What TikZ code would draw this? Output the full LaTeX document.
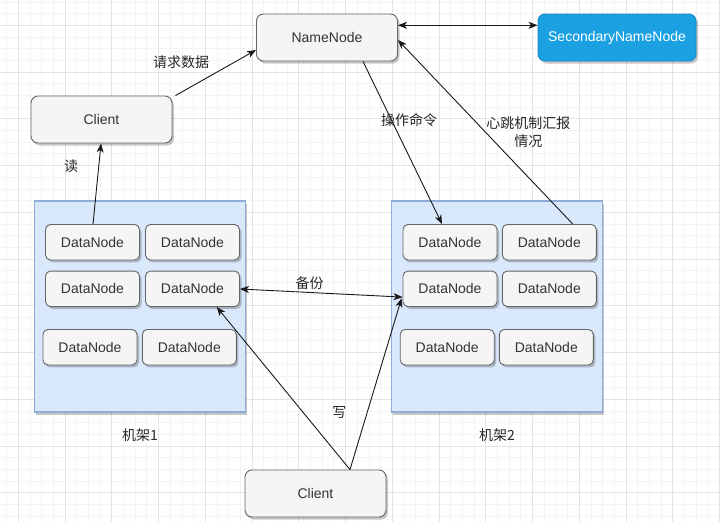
\documentclass[tikz,border=0pt]{standalone}
\usepackage{fontspec}
\setmainfont{Liberation Sans}
\newfontfamily\cjk{Noto Sans CJK SC}
\usetikzlibrary{arrows.meta,shadows,calc}
\definecolor{gfill}{HTML}{F5F5F5}
\definecolor{gstroke}{HTML}{666666}
\definecolor{gtext}{HTML}{333333}
\definecolor{rackfill}{HTML}{DAE8FC}
\definecolor{rackstroke}{HTML}{8FACD6}
\definecolor{snnfill}{HTML}{1BA1E2}
\definecolor{snnstroke}{HTML}{1A87C9}
\definecolor{gridminor}{HTML}{F4F4F4}
\definecolor{gridmajor}{HTML}{E4E4E4}
\begin{document}
\begin{tikzpicture}[x=1pt,y=-1pt,
  shad/.style={drop shadow={shadow xshift=2pt,shadow yshift=-2.5pt,opacity=0.22,fill=black}},
  box/.style={shad,draw=gstroke,fill=gfill,rounded corners=7pt,text=gtext,
    font=\fontsize{14}{17}\selectfont,minimum width=141pt,minimum height=47pt,
    line width=0.9pt,inner sep=0pt},
  dn/.style={box,minimum width=94pt,minimum height=35.5pt,rounded corners=5pt},
  snnbox/.style={box,draw=snnstroke,fill=snnfill,text=white,minimum width=158pt},
  rack/.style={shad,draw=rackstroke,fill=rackfill,line width=1.2pt,minimum width=211pt,minimum height=211pt,inner sep=0pt},
  lab/.style={text=black!85,font=\cjk\fontsize{14}{17.5}\selectfont,inner sep=0pt,align=center},
  conn/.style={draw=black!90,line width=0.9pt,-{Stealth[length=9pt,width=7pt,inset=2.5pt]}},
  dconn/.style={conn,{Stealth[length=9pt,width=7pt,inset=2.5pt]}-{Stealth[length=9pt,width=7pt,inset=2.5pt]}}
]
\useasboundingbox (0,0) rectangle (720,522);
\fill[white] (0,0) rectangle (720,522);
\foreach \i in {0,...,61} {\draw[gridminor,line width=0.8pt] ({6.6+11.6875*\i},0) -- ++(0,522);}
\foreach \i in {0,...,45} {\draw[gridminor,line width=0.8pt] (0,{1.925+11.6875*\i}) -- ++(720,0);}
\foreach \i in {0,...,15} {\draw[gridmajor,line width=0.8pt] ({18.3+46.75*\i},0) -- ++(0,522);}
\foreach \i in {0,...,11} {\draw[gridmajor,line width=0.8pt] (0,{25.3+46.75*\i}) -- ++(720,0);}

% racks
\node[rack] (r1) at (139.7,306.5) {};
\node[rack] (r2) at (496.7,306.5) {};

% main nodes
\node[box] (nn) at (327,37.5) {NameNode};
\node[snnbox] (snn) at (617,37.5) {SecondaryNameNode};
\node[box] (c1) at (101.5,119.5) {Client};
\node[box] (c2) at (315.5,493.5) {Client};

% datanodes rack 1
\node[dn] (d11) at (92.5,242.2) {DataNode};
\node[dn] (d12) at (192.5,242.2) {DataNode};
\node[dn] (d13) at (92.5,288.8) {DataNode};
\node[dn] (d14) at (192.5,288.8) {DataNode};
\node[dn] (d15) at (90,347.2) {DataNode};
\node[dn] (d16) at (189.3,347.2) {DataNode};
% datanodes rack 2
\node[dn] (d21) at (450,242.2) {DataNode};
\node[dn] (d22) at (549.3,242.2) {DataNode};
\node[dn] (d23) at (450,288.8) {DataNode};
\node[dn] (d24) at (549.3,288.8) {DataNode};
\node[dn] (d25) at (447.2,347.2) {DataNode};
\node[dn] (d26) at (546.3,347.2) {DataNode};

% labels
\node[lab] (l1) at (181,61.7) {请求数据};
\node[lab] (l2) at (71,166.7) {读};
\node[lab] (l3) at (409,120) {操作命令};
\node[lab] (l4) at (528.3,132) {心跳机制汇报\\情况};
\node[lab] (l5) at (309.7,283.3) {备份};
\node[lab] (l6) at (339.3,412.3) {写};
\node[lab] (l7) at (140,435) {机架1};
\node[lab] (l8) at (497,435) {机架2};

% connectors
\draw[conn] ($(c1.north east)+(3,0)$) -- ($(nn.west)+(0,12.5)$);
\draw[dconn] ($(nn.east)+(0,-12.2)$) -- ($(snn.west)+(0,-12.2)$);
\draw[conn] ($(nn.south)+(36,0)$) -- ($(d21.north)+(-8,0)$);
\draw[conn] ($(d22.north)+(23.4,0)$) -- ($(nn.east)+(0,2.5)$);
\draw[conn] ($(d11.north)+(0.5,0)$) -- ($(c1.south)+(-0.5,0)$);
\draw[dconn] ($(d14.east)+(0,0.2)$) -- ($(d23.west)+(0,8.3)$);
\coordinate (w) at ($(c2.north)+(34.5,0)$);
\draw[conn] (w) -- ($(d14.south)+(24.2,0)$);
\draw[conn] (w) -- ($(d23.west)+(-1,9.5)$);
\end{tikzpicture}
\end{document}
